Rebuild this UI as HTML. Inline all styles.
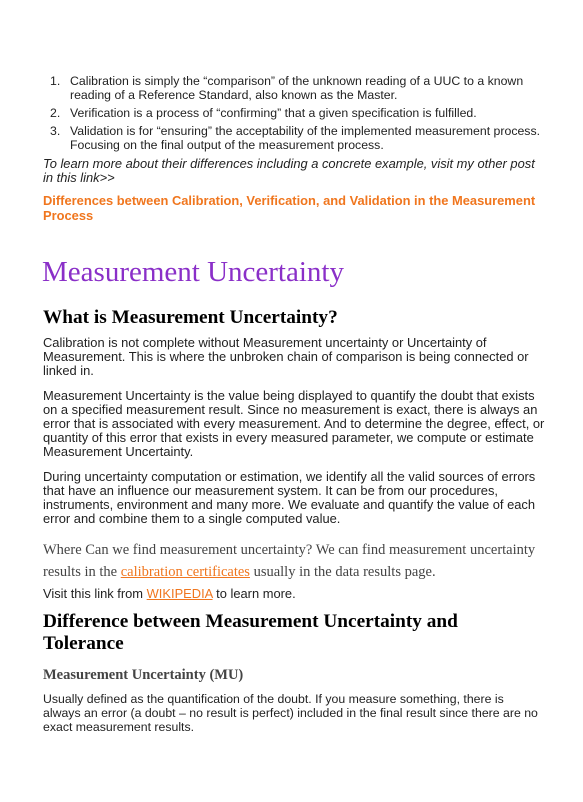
<!DOCTYPE html>
<html><head><meta charset="utf-8"><style>
body{margin:0;width:583px;height:802px;background:#fff;position:relative;overflow:hidden;font-family:"Liberation Sans",Arial,sans-serif;color:#222}
div.l{position:absolute;white-space:nowrap;font-size:12.3px;line-height:14px;height:14px}
div.b{font-size:12.9px}
.s{font-family:"Liberation Serif",serif}
.o{color:#f0761e}
a{color:#f0761e;text-decoration:underline}
</style></head><body>
<div>
<div class="l" style="left:50px;top:74px">1.</div>
<div class="l" style="left:70px;top:74px">Calibration is simply the “comparison” of the unknown reading of a UUC to a known</div>
<div class="l" style="left:70px;top:88px">reading of a Reference Standard, also known as the Master.</div></div>
<div>
<div class="l" style="left:50px;top:106px">2.</div>
<div class="l" style="left:70px;top:106px">Verification is a process of “confirming” that a given specification is fulfilled.</div></div>
<div>
<div class="l" style="left:50px;top:124px">3.</div>
<div class="l" style="left:70px;top:124px">Validation is for “ensuring” the acceptability of the implemented measurement process.</div>
<div class="l" style="left:70px;top:138px">Focusing on the final output of the measurement process.</div></div>
<div>
<div class="l b" style="left:43px;top:157px;font-style:italic">To learn more about their differences including a concrete example, visit my other post</div>
<div class="l b" style="left:43px;top:171px;font-style:italic">in this link&gt;&gt;</div></div>
<div>
<div class="l b o" style="left:43px;top:194px;font-weight:bold">Differences between Calibration, Verification, and Validation in the Measurement</div>
<div class="l b o" style="left:43px;top:209px;font-weight:bold">Process</div></div>
<div class="l s" style="left:42px;top:253px;font-size:29px;line-height:38px;height:38px;color:#8a2fc8">Measurement Uncertainty</div>
<div class="l s" style="left:43px;top:306px;font-size:19.3px;line-height:24px;height:24px;font-weight:bold;color:#000">What is Measurement Uncertainty?</div>
<div>
<div class="l b" style="left:43px;top:336px">Calibration is not complete without Measurement uncertainty or Uncertainty of</div>
<div class="l b" style="left:43px;top:350px">Measurement. This is where the unbroken chain of comparison is being connected or</div>
<div class="l b" style="left:43px;top:364px">linked in.</div></div>
<div>
<div class="l b" style="left:43px;top:389px">Measurement Uncertainty is the value being displayed to quantify the doubt that exists</div>
<div class="l b" style="left:43px;top:403px">on a specified measurement result. Since no measurement is exact, there is always an</div>
<div class="l b" style="left:43px;top:417px">error that is associated with every measurement. And to determine the degree, effect, or</div>
<div class="l b" style="left:43px;top:431px">quantity of this error that exists in every measured parameter, we compute or estimate</div>
<div class="l b" style="left:43px;top:445px">Measurement Uncertainty.</div></div>
<div>
<div class="l b" style="left:43px;top:470px">During uncertainty computation or estimation, we identify all the valid sources of errors</div>
<div class="l b" style="left:43px;top:484px">that have an influence our measurement system. It can be from our procedures,</div>
<div class="l b" style="left:43px;top:498px">instruments, environment and many more. We evaluate and quantify the value of each</div>
<div class="l b" style="left:43px;top:512px">error and combine them to a single computed value.</div></div>
<div>
<div class="l s" style="left:43px;top:542px;font-size:14.5px;line-height:17px;height:17px;color:#444">Where Can we find measurement uncertainty? We can find measurement uncertainty</div>
<div class="l s" style="left:43px;top:564px;font-size:14.5px;line-height:17px;height:17px;color:#444">results in the <a>calibration certificates</a> usually in the data results page.</div></div>
<div class="l b" style="left:43px;top:587px">Visit this link from <a>WIKIPEDIA</a> to learn more.</div>
<div>
<div class="l s" style="left:43px;top:610px;font-size:19.3px;line-height:24px;height:24px;font-weight:bold;color:#000">Difference between Measurement Uncertainty and</div>
<div class="l s" style="left:43px;top:632px;font-size:19.3px;line-height:24px;height:24px;font-weight:bold;color:#000">Tolerance</div></div>
<div class="l s" style="left:43px;top:666px;font-size:14.5px;line-height:18px;height:18px;font-weight:bold;color:#444">Measurement Uncertainty (MU)</div>
<div>
<div class="l" style="left:43px;top:692px">Usually defined as the quantification of the doubt. If you measure something, there is</div>
<div class="l" style="left:43px;top:706px">always an error (a doubt – no result is perfect) included in the final result since there are no</div>
<div class="l" style="left:43px;top:720px">exact measurement results.</div></div>
</body></html>
